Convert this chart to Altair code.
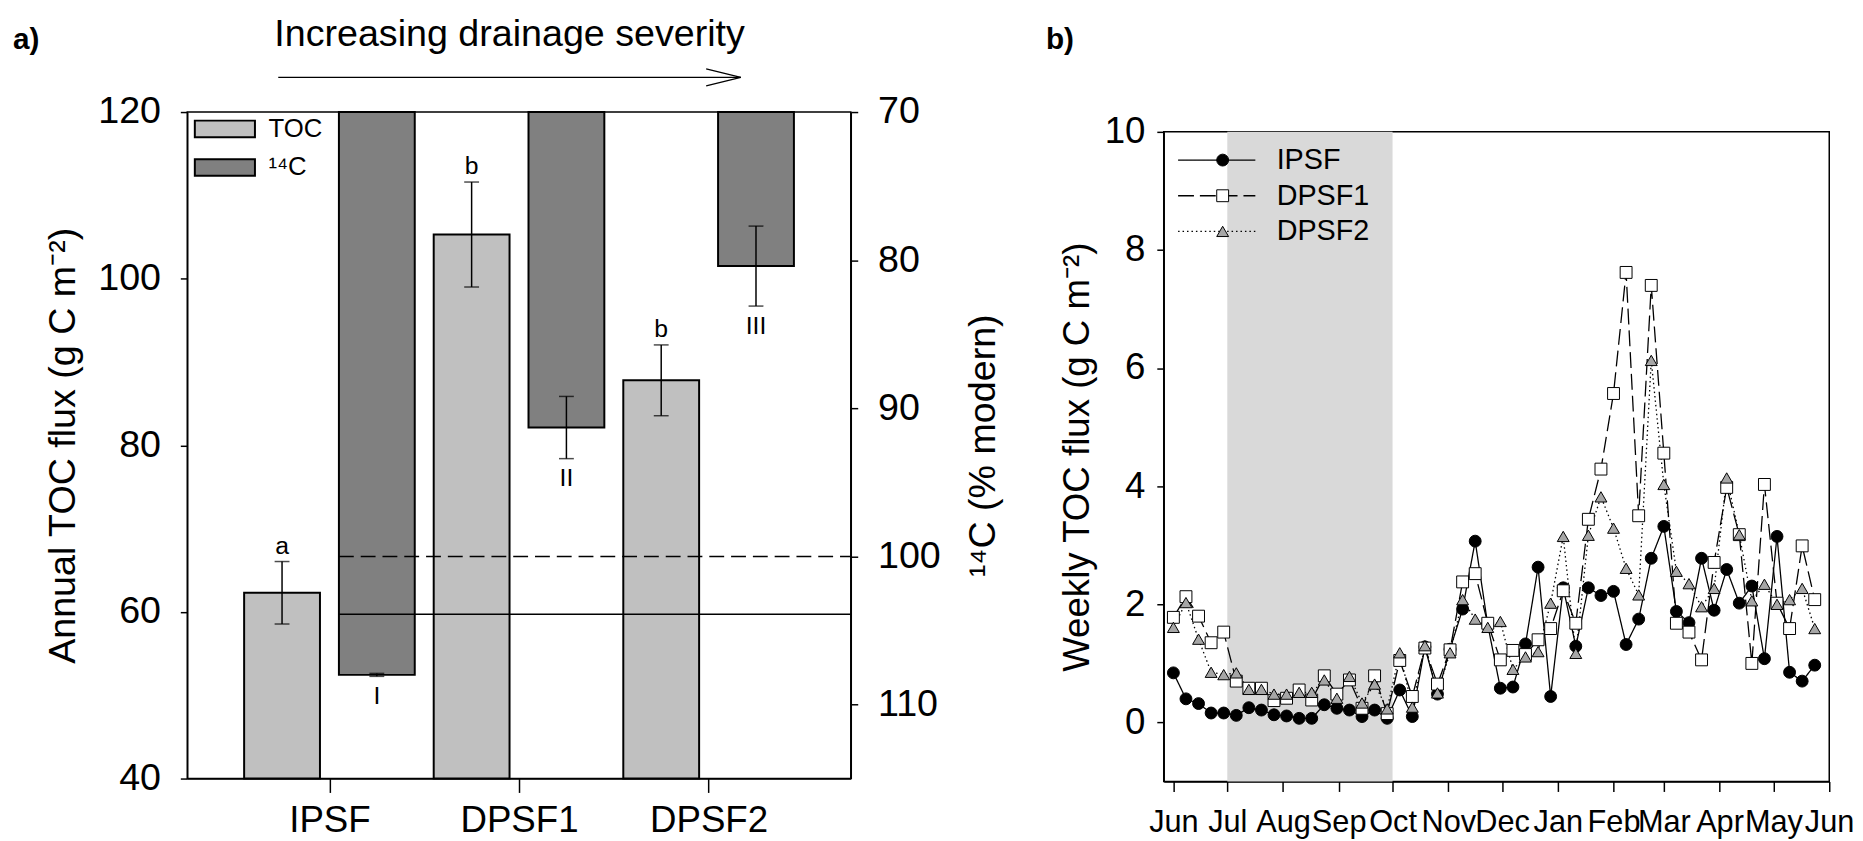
import altair as alt
import pandas as pd

FONT = "Liberation Sans"

# ---------------- Panel a : annual fluxes ----------------
sites = ["IPSF", "DPSF1", "DPSF2"]
site_index = [1, 2, 3]
toc_flux = [62.3, 105.3, 87.8]
toc_sd = [3.75, 6.3, 4.25]
toc_letters = ["a", "b", "b"]
c14_pmc = [108.0, 91.3, 80.4]
c14_sd = [0.1, 2.1, 2.7]
c14_groups = ["I", "II", "III"]
ref_pmc = [100.0, 103.9]
ref_style = ["dashed", "solid"]
legend_a = ["TOC", "\u00b9\u2074C"]
arrow_span = [0.73, 3.17]
arrow_text = "Increasing drainage severity"

# ---------------- Panel b : weekly fluxes ----------------
week_dates = [
    "2012/06/01", "2012/06/08", "2012/06/15", "2012/06/22", "2012/06/29",
    "2012/07/06", "2012/07/13", "2012/07/20", "2012/07/27",
    "2012/08/03", "2012/08/10", "2012/08/17", "2012/08/24", "2012/08/31",
    "2012/09/07", "2012/09/14", "2012/09/21", "2012/09/28",
    "2012/10/05", "2012/10/12", "2012/10/19", "2012/10/26",
    "2012/11/02", "2012/11/09", "2012/11/16", "2012/11/23", "2012/11/30",
    "2012/12/07", "2012/12/14", "2012/12/21", "2012/12/28",
    "2013/01/04", "2013/01/11", "2013/01/18", "2013/01/25",
    "2013/02/01", "2013/02/08", "2013/02/15", "2013/02/22",
    "2013/03/01", "2013/03/08", "2013/03/15", "2013/03/22", "2013/03/29",
    "2013/04/05", "2013/04/12", "2013/04/19", "2013/04/26",
    "2013/05/03", "2013/05/10", "2013/05/17", "2013/05/24",
]
ipsf = [0.84, 0.40, 0.32, 0.16, 0.16, 0.12, 0.25, 0.21, 0.13, 0.11, 0.07, 0.07,
        0.30, 0.24, 0.21, 0.10, 0.21, 0.07, 0.55, 0.10, 1.28, 0.48, 1.24, 1.92,
        3.07, 1.65, 0.58, 0.60, 1.33, 2.63, 0.44, 2.28, 1.29, 2.28, 2.15, 2.22,
        1.32, 1.75, 2.78, 3.32, 1.88, 1.69, 2.78, 1.90, 2.59, 2.02, 2.31, 1.08,
        3.15, 0.85, 0.70, 0.97]
dpsf1 = [1.78, 2.13, 1.80, 1.35, 1.53, 0.70, 0.58, 0.58, 0.37, 0.41, 0.55, 0.38,
         0.79, 0.48, 0.72, 0.24, 0.79, 0.15, 1.05, 0.44, 1.26, 0.65, 1.23, 2.38,
         2.52, 1.68, 1.06, 1.22, 1.15, 1.40, 1.59, 2.23, 1.68, 3.44, 4.29, 5.57,
         7.62, 3.50, 7.40, 4.56, 1.68, 1.53, 1.06, 2.71, 3.98, 3.18, 1.00, 4.03,
         2.02, 1.59, 2.99, 2.08]
dpsf2 = [1.61, 2.03, 1.41, 0.85, 0.81, 0.84, 0.56, 0.56, 0.48, 0.48, 0.51, 0.51,
         0.72, 0.41, 0.78, 0.33, 0.65, 0.23, 1.18, 0.26, 1.30, 0.50, 1.18, 2.08,
         1.75, 1.61, 1.71, 0.90, 1.11, 1.20, 2.02, 3.15, 1.17, 3.17, 3.82, 3.29,
         2.61, 2.16, 6.13, 4.03, 2.56, 2.35, 1.96, 2.27, 4.14, 3.18, 2.06, 2.34,
         2.00, 2.08, 2.27, 1.59]
series_names = ["IPSF", "DPSF1", "DPSF2"]
shade_period = ["2012/07/01", "2012/10/01"]

# =========================================================
# Panel a
# =========================================================
toc_df = pd.DataFrame({"site": sites, "pos": site_index, "val": toc_flux,
                       "sd": toc_sd, "label": toc_letters})
toc_df["x0"] = toc_df["pos"] - 0.45
toc_df["x1"] = toc_df["pos"] - 0.05
toc_df["xc"] = toc_df["pos"] - 0.25
toc_df["lo"] = toc_df["val"] - toc_df["sd"]
toc_df["hi"] = toc_df["val"] + toc_df["sd"]
toc_df["var"] = legend_a[0]

c14_df = pd.DataFrame({"site": sites, "pos": site_index, "val": c14_pmc,
                       "sd": c14_sd, "label": c14_groups})
c14_df["x0"] = c14_df["pos"] + 0.05
c14_df["x1"] = c14_df["pos"] + 0.45
c14_df["xc"] = c14_df["pos"] + 0.25
c14_df["lo"] = c14_df["val"] - c14_df["sd"]
c14_df["hi"] = c14_df["val"] + c14_df["sd"]
c14_df["var"] = legend_a[1]

ref_df = pd.DataFrame({"level": ref_pmc, "style": ref_style})
ref_df["x0"] = c14_df["x0"].iloc[0]
ref_df["x1"] = 3.75

xa = alt.Scale(domain=[0.25, 3.75], nice=False, zero=False)
ya = alt.Scale(domain=[40, 120], nice=False, zero=False)
yb = alt.Scale(domain=[70, 115], nice=False, zero=False, reverse=True)
col = alt.Scale(domain=legend_a, range=["#c0c0c0", "#808080"])

label_expr = "[" + ",".join("'%s'" % s for s in [""] + sites) + "][datum.value]"
x_axis_a = alt.Axis(values=site_index, labelExpr=label_expr, title=None, grid=False,
                    tickSize=14, labelPadding=10, labelFontSize=37)
y_axis_l = alt.Axis(values=[40, 60, 80, 100, 120], title="Annual TOC flux (g C m\u207b\u00b2)",
                    tickSize=7, labelPadding=20, labelFontSize=38, titleFontSize=38,
                    titlePadding=15, grid=False)
y_axis_r = alt.Axis(orient="right", values=[70, 80, 90, 100, 110], title="\u00b9\u2074C (% modern)",
                    tickSize=7, labelPadding=20, labelFontSize=38, titleFontSize=38,
                    titleAngle=270, titlePadding=63, grid=False)

legend_rect = alt.Legend(
    orient="none", legendX=25, legendY=4, title=None, padding=0,
    symbolType="M-3.035,-0.835H3.035V0.835H-3.035Z", symbolSize=400,
    symbolStrokeColor="black", symbolStrokeWidth=2, symbolOpacity=1,
    labelFontSize=26, labelOffset=31, rowPadding=13, labelFont=FONT,
)


def xq(field):
    return alt.X(field, type="quantitative", scale=xa, axis=x_axis_a)


toc_bars = alt.Chart(toc_df).mark_bar(stroke="black", strokeWidth=2, opacity=1).encode(
    x=xq("x0"), x2="x1:Q",
    y=alt.Y("val:Q", scale=ya, axis=y_axis_l),
    y2=alt.datum(40),
    color=alt.Color("var:N", scale=col, legend=legend_rect),
)
toc_rule = alt.Chart(toc_df).mark_rule(color="black", strokeWidth=1.5).encode(
    x=xq("xc"), y=alt.Y("lo:Q", scale=ya, axis=y_axis_l), y2="hi:Q")
toc_caps = alt.Chart(toc_df).transform_fold(["lo", "hi"], as_=["k", "v"]).mark_tick(
    color="black", orient="horizontal", size=15, thickness=1.5).encode(
    x=xq("xc"), y=alt.Y("v:Q", scale=ya, axis=y_axis_l))
toc_text = alt.Chart(toc_df).mark_text(baseline="alphabetic", dy=-8, fontSize=25, font=FONT).encode(
    x=xq("xc"), y=alt.Y("hi:Q", scale=ya, axis=y_axis_l), text="label:N")

head_df = pd.DataFrame({"t": [arrow_text]})
head_text = alt.Chart(head_df).mark_text(fontSize=38, baseline="middle", font=FONT).encode(
    x=alt.X(datum=sum(arrow_span) / 2, scale=xa, axis=x_axis_a), y=alt.value(-78), text="t:N")
arrow_line = alt.Chart(head_df).mark_rule(color="black", strokeWidth=1.3).encode(
    x=alt.X(datum=arrow_span[0], scale=xa, axis=x_axis_a), x2=alt.datum(arrow_span[1]),
    y=alt.value(-35))
arrow_head = alt.Chart(head_df).mark_point(
    shape="M-1,-0.246L0,0L-1,0.246", size=4900, filled=False, stroke="black",
    strokeWidth=1.3, opacity=1).encode(
    x=alt.X(datum=arrow_span[1], scale=xa, axis=x_axis_a), y=alt.value(-35))
tags_df = pd.DataFrame({"t": ["a)", "b)"], "px": [-176, 867]})
tags = alt.Chart(tags_df).mark_text(
    align="left", baseline="middle", fontSize=30, fontWeight="bold", font=FONT).encode(
    x=alt.X("px:Q", scale=None), y=alt.value(-73), text="t:N")

left_layer = alt.layer(toc_bars, toc_rule, toc_caps, toc_text, head_text, arrow_line, arrow_head, tags)

c14_bars = alt.Chart(c14_df).mark_bar(stroke="black", strokeWidth=2, opacity=1).encode(
    x=xq("x0"), x2="x1:Q",
    y=alt.Y("val:Q", scale=yb, axis=y_axis_r),
    y2=alt.datum(70),
    color=alt.Color("var:N", scale=col, legend=legend_rect),
)
c14_rule = alt.Chart(c14_df).mark_rule(color="black", strokeWidth=1.5).encode(
    x=xq("xc"), y=alt.Y("lo:Q", scale=yb, axis=y_axis_r), y2="hi:Q")
c14_caps = alt.Chart(c14_df).transform_fold(["lo", "hi"], as_=["k", "v"]).mark_tick(
    color="black", orient="horizontal", size=15, thickness=1.5).encode(
    x=xq("xc"), y=alt.Y("v:Q", scale=yb, axis=y_axis_r))
c14_text = alt.Chart(c14_df).mark_text(baseline="top", dy=8, fontSize=25, font=FONT).encode(
    x=xq("xc"), y=alt.Y("hi:Q", scale=yb, axis=y_axis_r), text="label:N")
ref_lines = alt.Chart(ref_df).mark_rule(color="black", strokeWidth=1.5).encode(
    x=xq("x0"), x2="x1:Q",
    y=alt.Y("level:Q", scale=yb, axis=y_axis_r),
    strokeDash=alt.StrokeDash("style:N", scale=alt.Scale(domain=ref_style, range=[[15, 7], [1, 0]]),
                              legend=None),
)
right_layer = alt.layer(c14_bars, c14_rule, c14_caps, c14_text, ref_lines)

panel_a = alt.layer(left_layer, right_layer).resolve_scale(y="independent").properties(
    width=670, height=673)

# =========================================================
# Panel b
# =========================================================
n = len(week_dates)
long_df = pd.DataFrame({
    "date": week_dates * 3,
    "flux": ipsf + dpsf1 + dpsf2,
    "series": [series_names[0]] * n + [series_names[1]] * n + [series_names[2]] * n,
})
marker_names = [s + " " for s in series_names]
long_df["marker"] = long_df["series"] + " "

xt = alt.Scale(domain=[alt.DateTime(year=2012, month=5, date=26, hours=15),
                       alt.DateTime(year=2013, month=6, date=1, hours=2)])
yt = alt.Scale(domain=[-1, 10], nice=False, zero=False)
month_ticks = ([alt.DateTime(year=2012, month=m, date=1) for m in range(6, 13)] +
               [alt.DateTime(year=2013, month=m, date=1) for m in range(1, 7)])

x_axis_b = alt.Axis(values=month_ticks, format="%b", title=None, grid=False, tickSize=10,
                    labelPadding=16, labelFontSize=31, labelOverlap=False, labelFlush=False)
y_axis_b = alt.Axis(values=[0, 2, 4, 6, 8, 10], title="Weekly TOC flux (g C m\u207b\u00b2)",
                    tickSize=7, labelPadding=12, labelFontSize=37, titleFontSize=37,
                    titlePadding=8, grid=False)

shade_df = pd.DataFrame({"start": [shade_period[0]], "end": [shade_period[1]]})
shade = alt.Chart(shade_df).mark_rect(color="#d9d9d9", opacity=1).encode(
    x=alt.X("start:T", scale=xt, axis=x_axis_b), x2="end:T",
    y=alt.value(0), y2=alt.value(656))

legend_lines = alt.Legend(
    orient="none", legendX=39, legendY=14, title=None, padding=0,
    symbolType="M-3,0H3", symbolSize=676, symbolStrokeColor="black",
    symbolStrokeWidth=1.3, labelFontSize=29, labelOffset=46, rowPadding=6, labelFont=FONT,
)
lines = alt.Chart(long_df).mark_line(color="black", strokeWidth=1.3).encode(
    x=alt.X("date:T", scale=xt, axis=x_axis_b),
    y=alt.Y("flux:Q", scale=yt, axis=y_axis_b),
    strokeDash=alt.StrokeDash("series:N", scale=alt.Scale(
        domain=series_names, range=[[1, 0], [16, 6], [1.5, 3]]), legend=legend_lines),
)
legend_marks = alt.Legend(
    orient="none", legendX=45, legendY=14, title=None, padding=0,
    symbolSize=144, symbolStrokeColor="black", symbolStrokeWidth=1,
    labelFontSize=29, labelOffset=46, rowPadding=6, labelExpr="''", labelFont=FONT,
)
points = alt.Chart(long_df).mark_point(filled=True, strokeWidth=1,
                                       size=144, opacity=1).encode(
    x=alt.X("date:T", scale=xt, axis=x_axis_b),
    y=alt.Y("flux:Q", scale=yt, axis=y_axis_b),
    shape=alt.Shape("marker:N", scale=alt.Scale(
        domain=marker_names, range=["circle", "square", "triangle-up"]), legend=legend_marks),
    fill=alt.Fill("marker:N", scale=alt.Scale(
        domain=marker_names, range=["black", "white", "#a6a6a6"]), legend=legend_marks),
    stroke=alt.Stroke("marker:N", scale=alt.Scale(
        domain=marker_names, range=["black", "black", "black"]), legend=legend_marks),
)

panel_b = alt.layer(shade, lines, points).properties(width=672, height=656)

# thin empty strip that lowers panel b's frame below panel a's frame
spacer = alt.Chart(pd.DataFrame({"t": [""]})).mark_text().encode(
    x=alt.value(0), y=alt.value(0), text="t:N"
).properties(width=672, height=1, view=alt.ViewBackground(stroke="transparent"))

right_col = alt.vconcat(spacer, panel_b, spacing=-6).resolve_scale(
    shape="independent", fill="independent", stroke="independent", strokeDash="independent"
).resolve_legend(shape="independent", fill="independent", stroke="independent",
                 strokeDash="independent")

chart = alt.concat(panel_a, right_col, columns=2, align="none", spacing=-18).resolve_scale(
    color="independent", shape="independent", fill="independent", stroke="independent",
    strokeDash="independent"
).resolve_legend(
    color="independent", shape="independent", fill="independent", stroke="independent",
    strokeDash="independent"
).properties(
    padding={"left": 4, "top": 3, "right": 0, "bottom": 0}
).configure(font=FONT).configure_view(
    stroke="black", strokeWidth=1.5
).configure_axis(
    domainColor="black", domainWidth=1.5, tickColor="black", tickWidth=1.5,
    labelColor="black", titleColor="black", titleFontWeight="normal",
    labelFont=FONT, titleFont=FONT,
).configure_legend(labelColor="black")

chart.save("out.html", embed_options={"renderer": "svg", "actions": False})
